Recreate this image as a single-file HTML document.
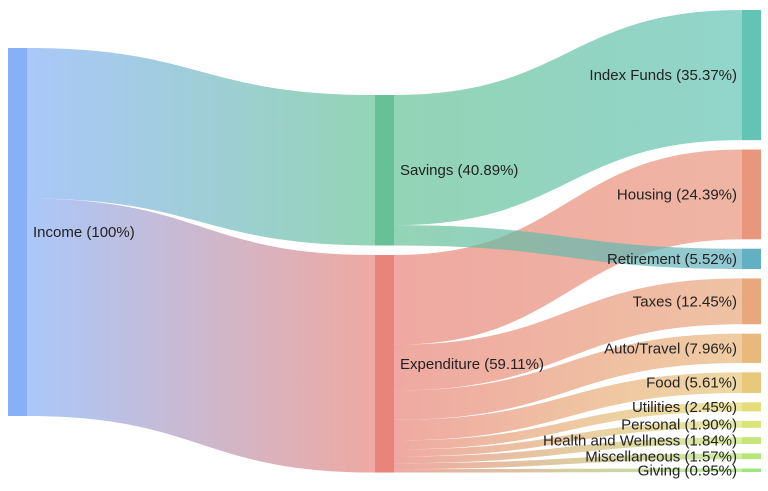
<!DOCTYPE html>
<html><head><meta charset="utf-8"><style>
body{margin:0;background:#fff}
svg text{font-family:"Liberation Sans",Arial,sans-serif;font-size:15px;fill:#222}
</style></head><body>
<svg id="s" width="768" height="486" xmlns="http://www.w3.org/2000/svg"><defs id="d"></defs><g id="l"></g><g id="n"></g><g id="t"></g></svg>
<script>
const S=368/100, NS="http://www.w3.org/2000/svg";
function el(p,tag,a,txt){const e=document.createElementNS(NS,tag);for(const k in a)e.setAttribute(k,a[k]);if(txt)e.textContent=txt;document.getElementById(p).appendChild(e);return e;}
const nodes={
 inc:{x:8,y:48,v:100,c:"#86b0f7",lab:"Income (100%)",side:"r"},
 sav:{x:375,y:95,v:40.89,c:"#66c296",lab:"Savings (40.89%)",side:"r"},
 exp:{x:375,y:255,v:59.11,c:"#e8847a",lab:"Expenditure (59.11%)",side:"r"}
};
const right=[["idx","Index Funds",35.37,"#63c3b5"],["hou","Housing",24.39,"#e8967c"],["ret","Retirement",5.52,"#63b0c3"],["tax","Taxes",12.45,"#e8a87c"],["aut","Auto/Travel",7.96,"#e8b87c"],["foo","Food",5.61,"#e8c97c"],["uti","Utilities",2.45,"#e3dc78"],["per","Personal",1.90,"#d9e47a"],["hea","Health and Wellness",1.84,"#c6e67a"],["mis","Miscellaneous",1.57,"#b4e67a"],["giv","Giving",0.95,"#9ee67a"]];
let y=10;const gap=(462-368)/10;
right.forEach(r=>{nodes[r[0]]={x:742,y:y,v:r[2],c:r[3],lab:r[1]+" ("+r[2].toFixed(2)+"%)",side:"l"};y+=r[2]*S+gap;});
const links=[["inc","sav",40.89],["inc","exp",59.11],["sav","idx",35.37],["sav","ret",5.52],["exp","hou",24.39],["exp","tax",12.45],["exp","aut",7.96],["exp","foo",5.61],["exp","uti",2.45],["exp","per",1.90],["exp","hea",1.84],["exp","mis",1.57],["exp","giv",0.95]];
const so={},to={},paths=[];
links.forEach((L,i)=>{const a=nodes[L[0]],b=nodes[L[1]],h=L[2]*S;
 const y0=a.y+(so[L[0]]||0),y1=b.y+(to[L[1]]||0);so[L[0]]=(so[L[0]]||0)+h;to[L[1]]=(to[L[1]]||0)+h;
 const x0=a.x+19,x1=b.x,m=(x0+x1)/2;
 const g=el("d","linearGradient",{id:"g"+i,gradientUnits:"userSpaceOnUse",x1:x0,x2:x1,y1:0,y2:0});
 el("g"+i,"stop",{offset:"0","stop-color":a.c});el("g"+i,"stop",{offset:"1","stop-color":b.c});
 paths.push([L[0]=="sav"?1:0,{d:`M${x0},${y0}C${m},${y0} ${m},${y1} ${x1},${y1}L${x1},${y1+h}C${m},${y1+h} ${m},${y0+h} ${x0},${y0+h}Z`,fill:`url(#g${i})`,"fill-opacity":"0.7"}]);
});
paths.filter(p=>!p[0]).forEach(p=>el("l","path",p[1]));
paths.filter(p=>p[0]).forEach(p=>el("l","path",p[1]));
for(const k in nodes){const n=nodes[k],h=n.v*S;
 el("n","rect",{x:n.x,y:n.y,width:19,height:h,fill:n.c});
 if(n.side=="r")el("t","text",{x:n.x+25,y:n.y+h/2+5},n.lab);
 else el("t","text",{x:n.x-5,y:n.y+h/2+5,"text-anchor":"end"},n.lab);
}
</script>
</body></html>
